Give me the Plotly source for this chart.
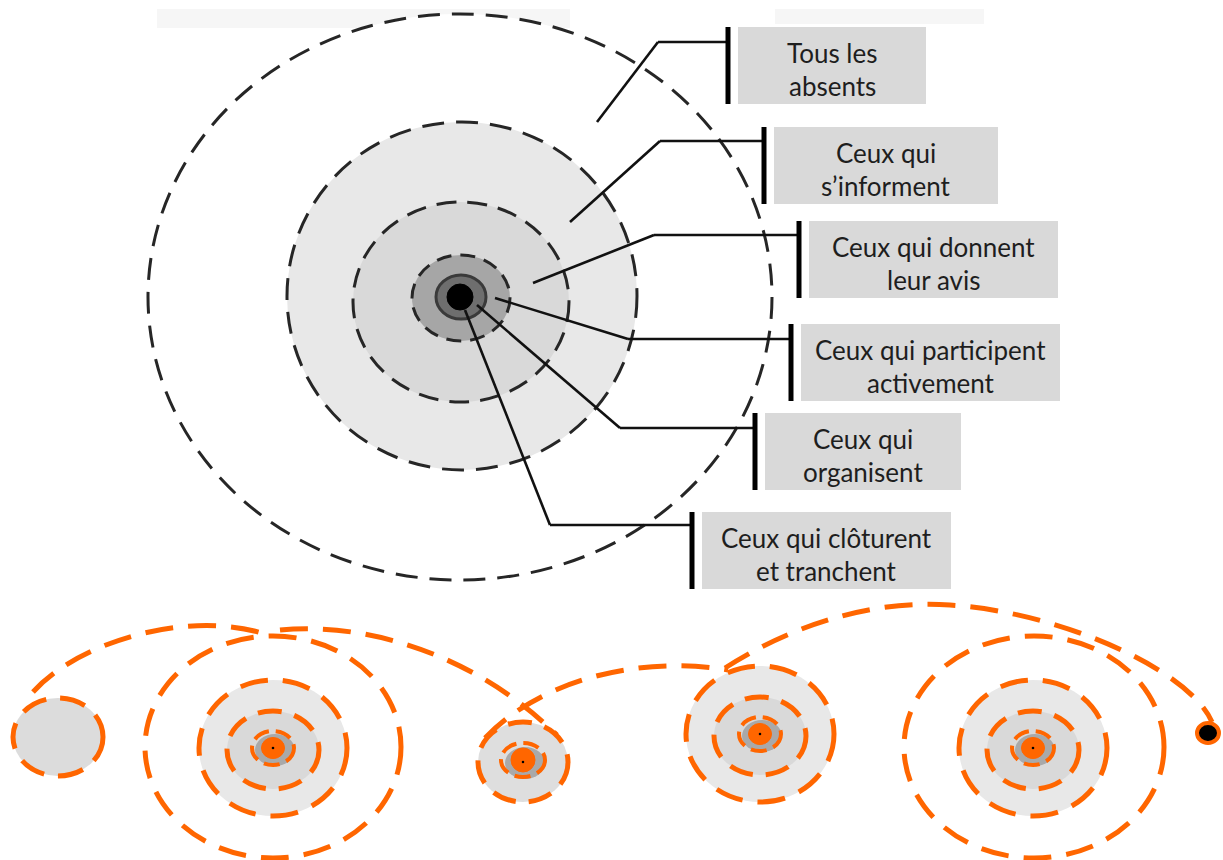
import plotly.graph_objects as go

W, H = 1223, 860

# ---------------- text content ----------------
label_line1 = ["Tous les", "Ceux qui", "Ceux qui donnent", "Ceux qui participent", "Ceux qui", "Ceux qui clôturent"]
label_line2 = ["absents", "s’informent", "leur avis", "activement", "organisent", "et tranchent"]

# ---------------- layout geometry (pixel space) ----------------
# top concentric target: cx, cy, rx, ry
top_rings = [(460, 297, 312, 283), (462, 296, 175, 174), (461, 302, 108, 100), (461, 298, 49, 43)]
top_fills = ["#ffffff", "#e8e8e8", "#d9d9d9", "#a6a6a6"]
top_dash = ["22px,12px", "22px,12px", "20px,11px", "15px,9px"]
top_core = (461, 297, 25, 22)
top_dot = (460, 297, 13, 13)

leader_start = [(597, 122), (570, 222), (533, 283), (495, 298), (477, 305), (465, 310)]
leader_bend = [(658, 42), (660, 141), (654, 235), (628, 339), (620, 428), (550, 525)]
bar_x = [728, 764, 799, 791, 755, 692]
box_top = [27, 127, 221, 324, 413, 512]
box_right = [926, 998, 1058, 1060, 961, 951]
BOX_H = 77

# bottom orange chain
ORANGE = "#ff6600"
circle_a = (58, 737, 45, 39)
targets = [(273, 748), (760, 734), (1033, 748)]     # full targets
outer_orbits = [(273, 747, 128, 111), (1034, 747, 130, 111)]
small_target = (523, 762)
end_dot = (1208, 733)
arcs = [
    "M 33,692 C 80,640 190,610 265,634",
    "M 280,630 C 360,622 470,650 557,735",
    "M 485,738 C 540,680 640,655 728,670",
    "M 725,668 C 800,620 880,600 950,605 C 1060,612 1190,670 1212,722",
]

shapes = []
annotations = []


def ell(cx, cy, rx, ry, fill="rgba(0,0,0,0)", color="#262626", width=3, dash="solid"):
    shapes.append(dict(type="circle", xref="x", yref="y",
                       x0=cx - rx, x1=cx + rx, y0=cy - ry, y1=cy + ry,
                       fillcolor=fill, line=dict(color=color, width=width, dash=dash)))


def seg(x0, y0, x1, y1, color="#111111", width=3):
    shapes.append(dict(type="line", xref="x", yref="y", x0=x0, y0=y0, x1=x1, y1=y1,
                       line=dict(color=color, width=width)))


# faint background texture at top
shapes.append(dict(type="rect", xref="x", yref="y", x0=157, x1=570, y0=9, y1=28,
                   fillcolor="#f6f6f6", line=dict(width=0)))
shapes.append(dict(type="rect", xref="x", yref="y", x0=775, x1=984, y0=9, y1=24,
                   fillcolor="#f6f6f6", line=dict(width=0)))

# ---- top target ----
for (cx, cy, rx, ry), f, d in zip(top_rings, top_fills, top_dash):
    ell(cx, cy, rx, ry, fill=f, color="#262626", width=3, dash=d)
ell(*top_core, fill="#6e6e6e", color="#3a3a3a", width=3)
ell(*top_dot, fill="#000000", color="#000000", width=1)

# ---- leaders + label boxes ----
for i in range(6):
    sx, sy = leader_start[i]
    bx, by = leader_bend[i]
    seg(sx, sy, bx, by, width=2.6)
    seg(bx, by, bar_x[i], by, width=2.6)
    shapes.append(dict(type="rect", xref="x", yref="y", x0=bar_x[i] + 10, x1=box_right[i],
                       y0=box_top[i], y1=box_top[i] + BOX_H,
                       fillcolor="#d9d9d9", line=dict(width=0)))
    seg(bar_x[i], box_top[i], bar_x[i], box_top[i] + BOX_H, color="#000000", width=5)
    xc = (bar_x[i] + 10 + box_right[i]) / 2
    for txt, dy in ((label_line1[i], 26), (label_line2[i], 59)):
        annotations.append(dict(x=xc, y=box_top[i] + dy, xref="x", yref="y", text=txt,
                                showarrow=False, xanchor="center", yanchor="middle",
                                font=dict(family="Lato", size=26, color="#1e1e1e")))

# ---- bottom orange chain ----
ell(*circle_a, fill="#dcdcdc", color=ORANGE, width=5, dash="26px,14px")
for (cx, cy, rx, ry) in outer_orbits:
    ell(cx, cy, rx, ry, color=ORANGE, width=5, dash="28px,15px")
for (cx, cy) in targets:
    ell(cx, cy, 74, 68, fill="#e8e8e8", color=ORANGE, width=5, dash="28px,15px")
    ell(cx, cy + 2, 46, 39, fill="#d9d9d9", color=ORANGE, width=5, dash="24px,13px")
    ell(cx + 2, cy + 2, 20, 16, fill="#a9a9a9", color="rgba(0,0,0,0)", width=0)
    ell(cx, cy, 21, 17, color=ORANGE, width=4, dash="16px,7px")
    ell(cx, cy, 11.5, 10.5, fill=ORANGE, color=ORANGE, width=1)
    ell(cx, cy, 1.3, 1.3, fill="#000000", color="#000000", width=0)
cx, cy = small_target
ell(cx, cy, 45, 40, fill="#dedede", color=ORANGE, width=5, dash="24px,13px")
ell(cx + 2, cy + 1, 20, 16, fill="#a9a9a9", color="rgba(0,0,0,0)", width=0)
ell(cx, cy - 2, 22, 17, color=ORANGE, width=4, dash="16px,7px")
ell(cx, cy - 2, 12, 12, fill=ORANGE, color=ORANGE, width=1)
ell(cx, cy, 1.3, 1.3, fill="#000000", color="#000000", width=0)
for p in arcs:
    shapes.append(dict(type="path", xref="x", yref="y", path=p,
                       line=dict(color=ORANGE, width=5, dash="28px,15px")))
ell(end_dot[0], end_dot[1], 11, 10, fill="#000000", color=ORANGE, width=4)

fig = go.Figure()
fig.update_layout(
    width=W, height=H, autosize=False,
    margin=dict(l=0, r=0, t=0, b=0, pad=0),
    paper_bgcolor="white", plot_bgcolor="white",
    xaxis=dict(range=[0, W], visible=False, fixedrange=True),
    yaxis=dict(range=[H, 0], visible=False, fixedrange=True),
    shapes=shapes, annotations=annotations, showlegend=False,
)
fig.write_html("out.html", config={"displayModeBar": False},
               post_script="document.body.style.margin='0';document.body.style.overflow='hidden';")
